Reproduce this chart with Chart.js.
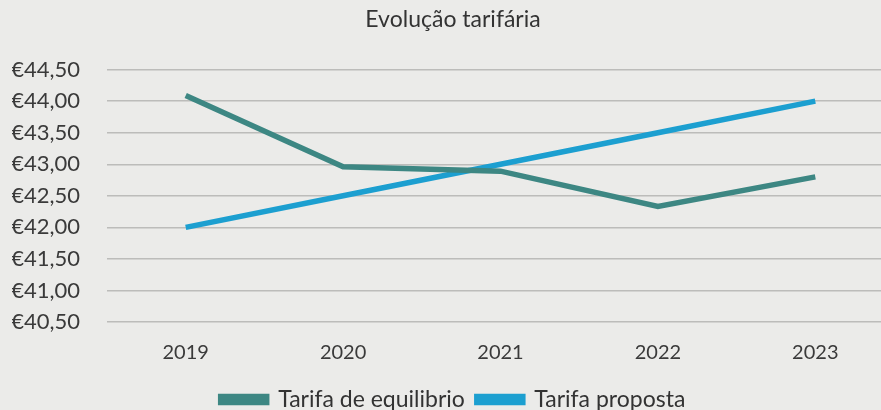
<!DOCTYPE html>
<html>
<head>
<meta charset="utf-8">
<script src="https://cdn.jsdelivr.net/npm/chart.js@4"></script>
<style>
  html, body { margin: 0; padding: 0; background: #ebebe9; overflow: hidden; }
  #wrap { width: 900px; height: 410px; }
</style>
</head>
<body>
<div id="wrap"><canvas id="tarifChart" width="900" height="410"></canvas></div>
<script>
const years = ['2019', '2020', '2021', '2022', '2023'];
const tarifaEquilibrio = [44.09, 42.96, 42.89, 42.33, 42.80];
const tarifaProposta = [42.00, 42.50, 43.00, 43.50, 44.00];
const yTicks = [40.5, 41, 41.5, 42, 42.5, 43, 43.5, 44, 44.5];

const fmt = v => '€' + v.toFixed(2).replace('.', ',');

const ctx = document.getElementById('tarifChart').getContext('2d');
new Chart(ctx, {
  type: 'line',
  data: {
    labels: years,
    datasets: [
      {
        label: 'Tarifa de equilibrio',
        data: tarifaEquilibrio,
        borderColor: '#3d8783',
        backgroundColor: '#3d8783',
        borderWidth: 5.5,
        pointRadius: 0,
        tension: 0
      },
      {
        label: 'Tarifa proposta',
        data: tarifaProposta,
        borderColor: '#1c9fd0',
        backgroundColor: '#1c9fd0',
        borderWidth: 5.5,
        pointRadius: 0,
        tension: 0
      }
    ]
  },
  options: {
    responsive: false,
    animation: false,
    layout: { padding: { left: 12, right: 6, top: 2, bottom: -11 } },
    scales: {
      x: {
        offset: true,
        grid: { display: false },
        border: { display: false },
        ticks: { color: '#3a3a3a', font: { family: 'Lato', size: 20 }, padding: 11 }
      },
      y: {
        min: 40.5,
        max: 44.5,
        afterBuildTicks: axis => { axis.ticks = yTicks.map(v => ({ value: v })); },
        afterFit: axis => { axis.width = 95; },
        grid: { color: '#bcbcba', lineWidth: 1.5, drawTicks: false },
        border: { display: false },
        ticks: {
          color: '#3a3a3a',
          font: { family: 'Lato', size: 22 },
          padding: 27,
          callback: v => fmt(v)
        }
      }
    },
    plugins: {
      title: {
        display: true,
        text: 'Evolução tarifária',
        color: '#333',
        font: { family: 'Lato', size: 23, weight: 'normal' },
        padding: { top: 4, bottom: 36 }
      },
      legend: {
        position: 'bottom',
        labels: {
          color: '#333',
          font: { family: 'Lato', size: 23 },
          boxWidth: 46,
          boxHeight: 6,
          padding: 12
        }
      },
      tooltip: { enabled: false }
    }
  }
});
</script>
</body>
</html>
